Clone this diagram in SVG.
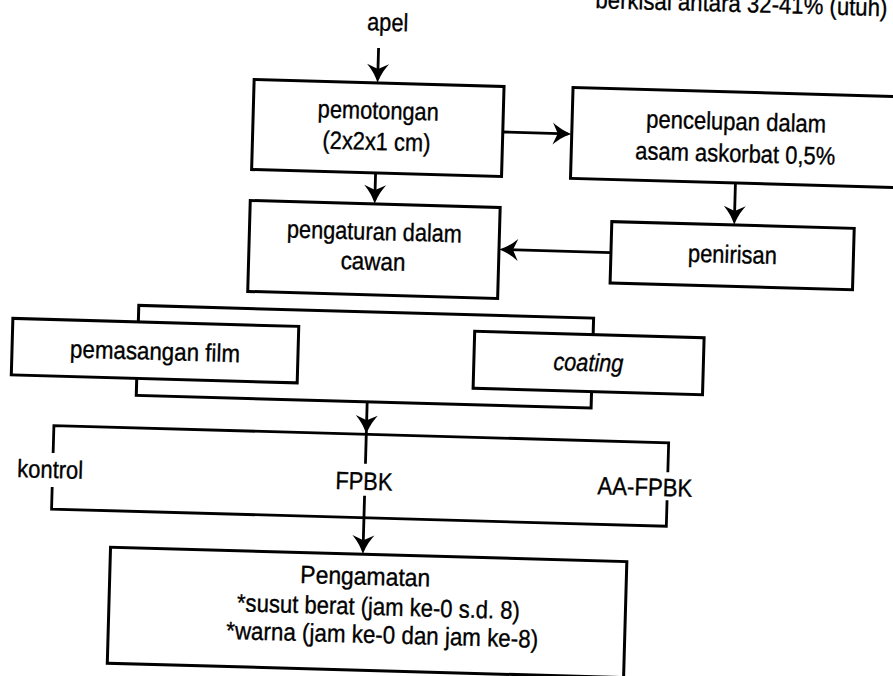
<svg xmlns="http://www.w3.org/2000/svg" width="893" height="676" viewBox="0 0 893 676">
  <style>
    .box { fill: #ffffff; stroke: #000000; stroke-width: 3; }
    .ln { fill: none; stroke: #000000; stroke-width: 2.8; }
    .t { font-family: "Liberation Sans", Arial, sans-serif; font-size: 25px; fill: #000000; stroke: #000000; stroke-width: 0.35; text-anchor: middle; }
    .it { font-style: italic; }
  </style>
  <defs>
    <marker id="ah" markerWidth="22" markerHeight="24" viewBox="0 0 22 24" refX="16" refY="12" orient="auto" markerUnits="userSpaceOnUse">
      <path d="M20 12 C14 14 8 17 1 23 L6 12 L1 1 C8 7 14 10 20 12 Z" fill="#000000"/>
    </marker>
  </defs>
  <rect x="0" y="0" width="893" height="676" fill="#ffffff"/>
  <g transform="rotate(1.6 446 338)">
    <g id="note">
      <text class="t" x="732" y="4" textLength="292" lengthAdjust="spacingAndGlyphs">berkisal antara 32-41% (utuh)</text>
    </g>
    <g id="apel">
      <text class="t" x="379" y="32.6" textLength="41" lengthAdjust="spacingAndGlyphs">apel</text>
    </g>
    <g id="group-film-coating">
      <rect class="box" x="138" y="314" width="455" height="90"/>
    </g>
    <g id="pemotongan">
      <rect class="box" x="247" y="85" width="250" height="90"/>
      <text class="t" x="372" y="121" textLength="121" lengthAdjust="spacingAndGlyphs">pemotongan</text>
      <text class="t" x="371" y="152" textLength="108" lengthAdjust="spacingAndGlyphs">(2x2x1 cm)</text>
    </g>
    <g id="pencelupan">
      <rect class="box" x="566" y="84" width="400" height="91"/>
      <text class="t" x="730" y="122" textLength="180" lengthAdjust="spacingAndGlyphs">pencelupan dalam</text>
      <text class="t" x="730" y="154" textLength="200" lengthAdjust="spacingAndGlyphs">asam askorbat 0,5%</text>
    </g>
    <g id="penirisan">
      <rect class="box" x="608.5" y="217" width="242.5" height="61.5"/>
      <text class="t" x="730" y="255" textLength="89" lengthAdjust="spacingAndGlyphs">penirisan</text>
    </g>
    <g id="pengaturan">
      <rect class="box" x="246.5" y="206" width="250" height="91"/>
      <text class="t" x="371.5" y="242" textLength="175" lengthAdjust="spacingAndGlyphs">pengaturan dalam</text>
      <text class="t" x="371" y="272" textLength="65" lengthAdjust="spacingAndGlyphs">cawan</text>
    </g>
    <g id="pemasangan-film">
      <rect class="box" x="12.5" y="330.5" width="286" height="56.5"/>
      <text class="t" x="155.5" y="368" textLength="170" lengthAdjust="spacingAndGlyphs">pemasangan film</text>
    </g>
    <g id="coating">
      <rect class="box" x="474.5" y="330.5" width="229.5" height="57"/>
      <text class="t it" x="589" y="367" textLength="70" lengthAdjust="spacingAndGlyphs">coating</text>
    </g>
    <g id="perlakuan">
      <path class="ln" d="M56.5 464 V436.5 H671.5 V466 M671.5 494 V520 H56.5 V498"/>
      <text class="t" x="54" y="489" textLength="66" lengthAdjust="spacingAndGlyphs">kontrol</text>
      <text class="t" x="368" y="492" textLength="57" lengthAdjust="spacingAndGlyphs">FPBK</text>
      <text class="t" x="649" y="490" textLength="95" lengthAdjust="spacingAndGlyphs">AA-FPBK</text>
    </g>
    <g id="pengamatan">
      <rect class="box" x="116.5" y="556.5" width="516.5" height="116"/>
      <text class="t" x="372" y="587" textLength="130" lengthAdjust="spacingAndGlyphs">Pengamatan</text>
      <text class="t" x="386" y="617" textLength="283" lengthAdjust="spacingAndGlyphs">*susut berat (jam ke-0 s.d. 8)</text>
      <text class="t" x="390.5" y="645" textLength="312" lengthAdjust="spacingAndGlyphs">*warna (jam ke-0 dan jam ke-8)</text>
    </g>
    <g id="connectors">
      <line class="ln" x1="370.5" y1="50" x2="370.5" y2="81" marker-end="url(#ah)"/>
      <line class="ln" x1="497" y1="130.5" x2="562" y2="130.5" marker-end="url(#ah)"/>
      <line class="ln" x1="731" y1="175" x2="731" y2="213" marker-end="url(#ah)"/>
      <line class="ln" x1="608.5" y1="248" x2="500.5" y2="248" marker-end="url(#ah)"/>
      <line class="ln" x1="371" y1="175" x2="371" y2="202" marker-end="url(#ah)"/>
      <line class="ln" x1="369" y1="404" x2="369" y2="432.5" marker-end="url(#ah)"/>
      <line class="ln" x1="369" y1="433.5" x2="369" y2="466"/>
      <line class="ln" x1="369" y1="498" x2="369" y2="552.5" marker-end="url(#ah)"/>
    </g>
  </g>
</svg>
